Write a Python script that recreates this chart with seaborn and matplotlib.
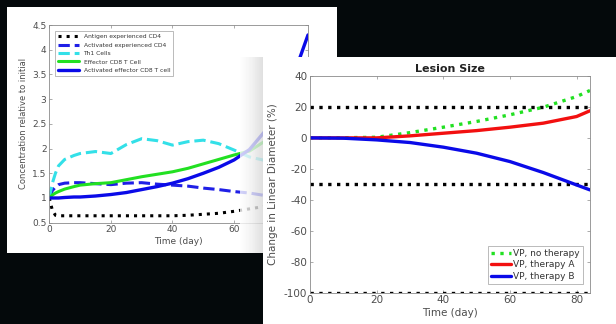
import numpy as np
import pandas as pd
import seaborn as sns
from matplotlib import pyplot as plt

# Left panel: concentration of T cell populations relative to initial
t_left = [0, 1, 2, 3, 5, 8, 10, 15, 20, 25, 30, 35, 40, 45, 50, 55, 60, 65, 70, 75, 80, 84]
antigen_cd4 = [1.0, 0.75, 0.65, 0.64, 0.64, 0.64, 0.64, 0.64, 0.64, 0.64, 0.64, 0.64, 0.64, 0.65, 0.67, 0.69, 0.73, 0.78, 0.83, 0.88, 0.93, 0.97]
activated_cd4 = [1.0, 1.15, 1.22, 1.27, 1.3, 1.31, 1.31, 1.29, 1.27, 1.3, 1.31, 1.28, 1.26, 1.24, 1.2, 1.17, 1.13, 1.1, 1.05, 1.01, 0.97, 0.95]
th1_cells = [1.0, 1.3, 1.5, 1.65, 1.78, 1.86, 1.9, 1.94, 1.9, 2.08, 2.2, 2.16, 2.07, 2.14, 2.17, 2.1, 1.97, 1.83, 1.76, 1.72, 1.7, 1.7]
effector_cd8 = [1.0, 1.06, 1.1, 1.13, 1.18, 1.23, 1.26, 1.29, 1.31, 1.37, 1.43, 1.48, 1.53, 1.6, 1.69, 1.78, 1.87, 1.95, 2.15, 2.4, 2.7, 3.0]
activated_cd8 = [1.0, 1.0, 1.0, 1.0, 1.01, 1.02, 1.02, 1.04, 1.07, 1.11, 1.17, 1.23, 1.3, 1.39, 1.5, 1.62, 1.77, 1.98, 2.35, 2.9, 3.6, 4.3]
left_labels = ['Antigen experienced CD4', 'Activated experienced CD4', 'Th1 Cells',
               'Effector CD8 T Cell', 'Activated effector CD8 T cell']

# Right panel: lesion size
t_right = [0, 10, 20, 30, 40, 50, 60, 70, 80, 84]
no_therapy = [0, 0.1, 0.4, 3.4, 6.9, 10.6, 14.9, 19.8, 26.7, 30.6]
therapy_a = [0, 0, 0, 1.3, 3.0, 4.7, 6.9, 9.5, 13.8, 17.5]
therapy_b = [0, -0.2, -1.3, -3.0, -6.0, -9.9, -15.3, -22.4, -30.4, -33.6]
recist_levels = [20, -30, -100]
right_labels = ['VP, no therapy', 'VP, therapy A', 'VP, therapy B']

sns.set_style('white')
plt.rcParams['font.family'] = ['DejaVu Sans']
plt.rcParams['axes.unicode_minus'] = False

fig = plt.figure(figsize=(6.16, 3.24), dpi=100)
fig.patch.set_facecolor('#04090b')

grey = '#4d4d4d'

def style_axes(ax, size):
    for s in ax.spines.values():
        s.set_color('#8a8a8a')
        s.set_linewidth(0.6)
    ax.tick_params(direction='in', length=2.5, width=0.5, colors='#8a8a8a',
                   labelcolor=grey, labelsize=size, top=True, right=True,
                   bottom=True, left=True, pad=2)

# left card
card1 = fig.add_axes([0.0114, 0.2191, 0.5357, 0.7593], zorder=0)
card1.set_facecolor('white')
card1.set_xticks([])
card1.set_yticks([])
for s in card1.spines.values():
    s.set_visible(False)

# shadow near the right card
shadow = fig.add_axes([0.39, 0.2191, 0.037, 0.605], zorder=1.5)
shadow.imshow(np.linspace(0, 1, 50)[None, :], cmap='Greys', vmin=0, vmax=4,
              aspect='auto', alpha=0.8)
shadow.axis('off')

ax1 = fig.add_axes([0.080, 0.3127, 0.42, 0.610], zorder=1)
ax1.set_facecolor('none')
left_series = [antigen_cd4, activated_cd4, th1_cells, effector_cd8, activated_cd8]
left_colors = ['black', '#1f1fe6', '#33e0e8', '#22e022', '#0a0ae8']
left_styles = [':', '--', '--', '-', '-']
left_widths = [2.2, 2.2, 2.2, 2.2, 2.4]
for vals, lab, c, ls, lw in zip(left_series, left_labels, left_colors, left_styles, left_widths):
    sns.lineplot(x=t_left, y=vals, ax=ax1, color=c, linestyle=ls, linewidth=lw, label=lab)
ax1.set_xlim(0, 84)
ax1.set_ylim(0.5, 4.5)
ax1.set_xticks([0, 20, 40, 60])
ax1.set_yticks([0.5, 1, 1.5, 2, 2.5, 3, 3.5, 4, 4.5])
ax1.set_yticklabels(['0.5', '1', '1.5', '2', '2.5', '3', '3.5', '4', '4.5'])
style_axes(ax1, 6.5)
ax1.set_xlabel('Time (day)', fontsize=6.5, color=grey, labelpad=2)
ax1.set_ylabel('Concentration relative to initial', fontsize=6, color=grey, labelpad=3)
leg1 = ax1.legend(loc='upper left', fontsize=4.3, handlelength=3.5, frameon=True,
                  borderpad=0.5, labelspacing=0.55, fancybox=False,
                  bbox_to_anchor=(0.01, 0.985))
leg1.get_frame().set_edgecolor('#888888')
leg1.get_frame().set_linewidth(0.5)
for txt in leg1.get_texts():
    txt.set_color('#333333')

# right card
card2 = fig.add_axes([0.427, 0.0, 0.573, 0.824], zorder=2)
card2.set_facecolor('white')
card2.set_xticks([])
card2.set_yticks([])
for s in card2.spines.values():
    s.set_visible(False)

ax2 = fig.add_axes([0.5032, 0.0966, 0.4545, 0.669], zorder=3)
ax2.set_facecolor('none')
for lvl in recist_levels:
    ax2.axhline(lvl, color='black', linestyle=':', linewidth=2.4)
right_series = [no_therapy, therapy_a, therapy_b]
right_colors = ['#22e022', '#f21010', '#0a0ae8']
right_styles = [':', '-', '-']
for vals, lab, c, ls in zip(right_series, right_labels, right_colors, right_styles):
    sns.lineplot(x=t_right, y=vals, ax=ax2, color=c, linestyle=ls, linewidth=2.4, label=lab)
ax2.set_xlim(0, 84)
ax2.set_ylim(-100, 40)
ax2.set_xticks([0, 20, 40, 60, 80])
ax2.set_yticks([-100, -80, -60, -40, -20, 0, 20, 40])
style_axes(ax2, 7.5)
ax2.set_title('Lesion Size', fontsize=8, fontweight='bold', color='#222222', pad=3)
ax2.set_xlabel('Time (day)', fontsize=7.5, color=grey, labelpad=2)
ax2.set_ylabel('Change in Linear Diameter (%)', fontsize=7.5, color=grey, labelpad=4)
leg2 = ax2.legend(loc='lower right', fontsize=6.5, handlelength=2.2, frameon=True,
                  borderpad=0.3, labelspacing=0.3, handletextpad=0.3, fancybox=False,
                  bbox_to_anchor=(0.99, 0.02))
leg2.get_frame().set_edgecolor('#888888')
leg2.get_frame().set_linewidth(0.5)
for txt in leg2.get_texts():
    txt.set_color('#333333')

fig.savefig('out.png', dpi=100, facecolor=fig.get_facecolor())
